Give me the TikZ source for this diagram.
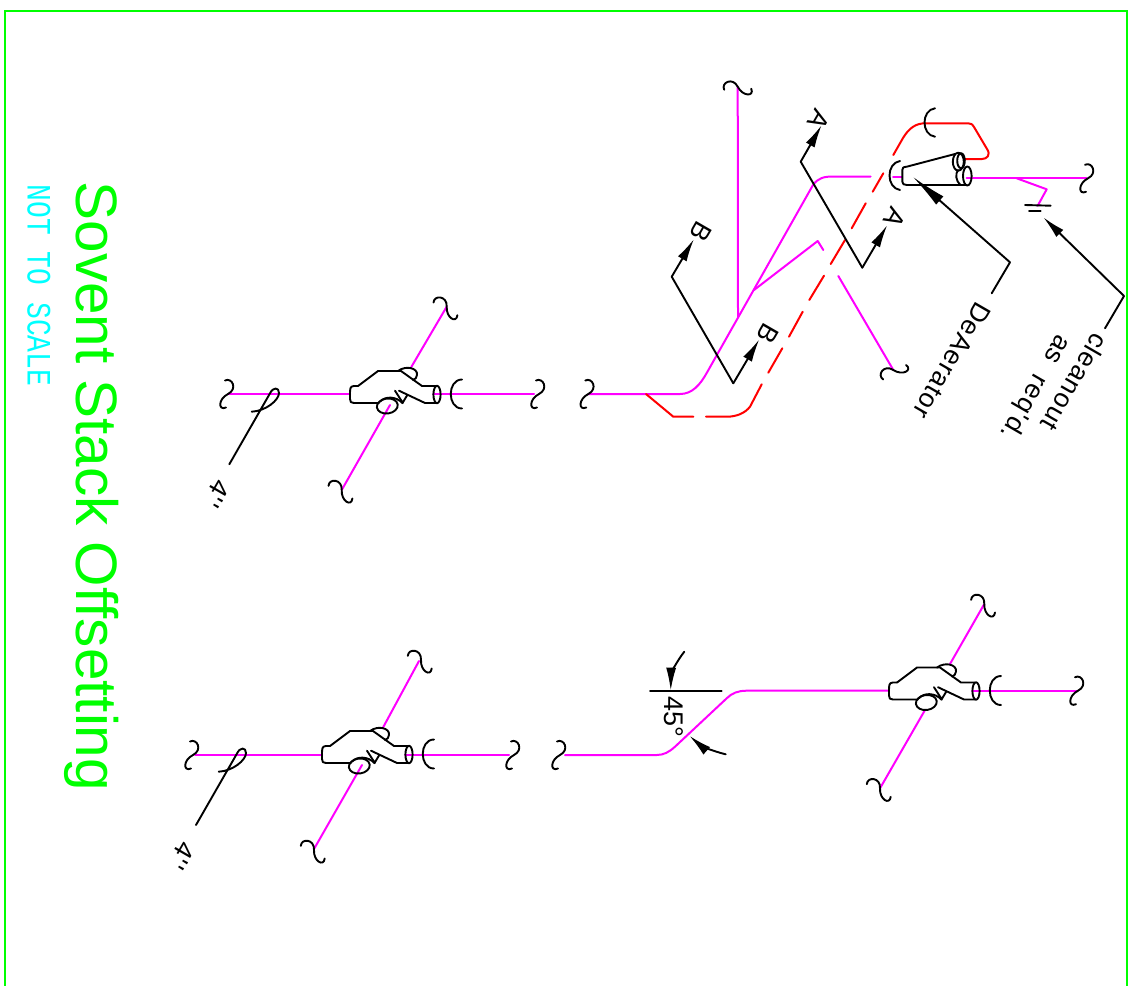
\documentclass[tikz,border=0pt]{standalone}
\usepackage{fontspec}
\usepackage{graphicx}
\setmainfont{Liberation Sans}
\newfontfamily\monof{Liberation Mono}
\newfontfamily\spacedf[LetterSpace=4]{Liberation Sans}
\usetikzlibrary{arrows.meta}
\definecolor{pipeM}{HTML}{FF00FF}
\definecolor{pipeR}{HTML}{FF0000}
\definecolor{frameG}{HTML}{00FF00}
\definecolor{noteC}{HTML}{00FFFF}
\tikzset{
 ink/.style={line width=1.9pt,draw=black,line cap=round,line join=round},
 mag/.style={line width=2pt,draw=pipeM,line cap=round,line join=round},
 rd/.style={line width=2pt,draw=pipeR,line cap=round,line join=round},
 lead/.style={ink,-{Latex[length=23pt,width=10pt]}},
 leadbig/.style={ink,-{Latex[length=36pt,width=11pt]}},
 lbl/.style={inner sep=0pt,anchor=base west,rotate=-120,font=\spacedf\fontsize{26.5}{26.5}\selectfont},
 brk/.pic={\draw[ink] (-3,-13.5) .. controls (4,-17) and (10,-5) .. (0,0) .. controls (-10,5) and (-10,17) .. (-2,13.5);},
 tee/.pic={
  \draw[ink] (8,-8) -- (4,-8) .. controls (0,-8) and (0,-5) .. (0,0) -- (0,5) .. controls (0,8) and (1,9) .. (4,9) -- (29,9);
  \draw[ink] (8,-8) -- (28,-23) -- (51,-23) -- (72,-8) -- (86,-8);
  \draw[ink] (86,9) -- (75,9) -- (49,-3.3);
  \draw[ink] (87,0.5) ellipse (3.6 and 8.7);
  \draw[ink] (45,-3.3) -- (52.7,8.7) -- (57.3,1);
  \draw[ink] (37.3,12) ellipse [x radius=10.5,y radius=7.5,rotate=8];
  \draw[ink] (48,-23) .. controls (56,-29) and (68,-26) .. (67,-19) .. controls (67,-16) and (65,-15) .. (63,-14);
  \draw[ink] (30,7.7) .. controls (35,2) and (46,2) .. (52.7,9.3);
  \draw[ink] (112,-14.5) .. controls (97,-14.5) and (97,14.5) .. (112,14.5);
 },
}
\begin{document}
\begin{tikzpicture}[x=1pt,y=-1pt]
\useasboundingbox (0,0) rectangle (1142,985);
% frame
\draw[line width=2pt,draw=frameG] (5,986) -- (5,11) -- (1127,11) -- (1127,986);
% titles
\node[inner sep=0pt,anchor=base west,rotate=-90,text=frameG,font=\fontsize{58.4}{58.4}\selectfont] (title) at (76,181.5) {Sovent Stack Offsetting};
\node[inner sep=0pt,anchor=base west,rotate=-90,text=noteC,font=\monof\fontsize{28}{28}\selectfont] (note) at (27.5,184.5) {\scalebox{1}[1.22]{NOT TO SCALE}};

% ---- upper left group
\draw[mag] (228,394) -- (350,394);
\draw[mag] (433,394) -- (534,394);
\draw[mag] (446.7,306.7) -- (411.3,367);
\draw[mag] (390,405) -- (341.7,490);
\pic at (350,394) {tee};
\pic at (228,394) {brk};
\pic at (539,394) {brk};
\pic[rotate=60] at (446.7,306.7) {brk};
\pic[rotate=60] at (341.7,490) {brk};
\draw[ink] (229.3,464.3) -- (270,393.3) .. controls (273,387) and (279,387) .. (279,393) .. controls (279,400) and (266,411) .. (251.7,411.7);
\node[lbl] (fourA) at (216,477) {4''};

% ---- lower left group
\draw[mag] (195,754.5) -- (322,754.5);
\draw[mag] (405,754.5) -- (509,754.5);
\draw[mag] (419,661) -- (383.3,727);
\draw[mag] (362,765) -- (314,849);
\pic at (322,754) {tee};
\pic at (193,755) {brk};
\pic at (514,755) {brk};
\pic[rotate=60] at (421,660) {brk};
\pic[rotate=60] at (314,850) {brk};
\draw[ink] (196,825) -- (237,753.5) .. controls (240,747) and (246,747) .. (246,753) .. controls (246,760) and (233,771) .. (218.7,771.7);
\node[lbl] (fourB) at (181,839) {4''};

% ---- lower right group
\draw[mag] (565,755) -- (656.7,755) .. controls (664,755) and (669,752) .. (675,746.7) -- (726.7,698.3) .. controls (732,693) and (738,690.7) .. (746.7,690.7) -- (889,690.7);
\draw[mag] (972,690.7) -- (1077.7,690.7);
\draw[mag] (984.3,604) -- (950,664);
\draw[mag] (925,710) -- (880,788.3);
\pic at (889,690.5) {tee};
\pic at (560,755) {brk};
\pic at (1078,690.7) {brk};
\pic[rotate=60] at (984.3,604) {brk};
\pic[rotate=60] at (880,788.3) {brk};
\draw[ink] (650,690.7) -- (721.7,690.7);
\draw[lead] (684.3,651.7) .. controls (676,662) and (671,675) .. (670.7,690.7);
\draw[lead] (725.7,754.3) .. controls (712,751) and (700,745) .. (689.3,735.7);
\node[inner sep=0pt,anchor=base west,rotate=-90,font=\fontsize{27}{27}\selectfont] (deg) at (664,696) {45°};

% ---- upper right group
\draw[mag] (588.3,394) -- (680,394) .. controls (692,394) and (700,385) .. (706.7,373) -- (813,185) .. controls (818,178) and (824,176.5) .. (833,176.5) -- (870.7,176.5);
\draw[mag] (893,176.5) -- (902,176.5);
\draw[mag] (966.7,178.3) -- (1086.7,178.3);
\draw[mag] (1016.7,178.3) -- (1046.7,189.3) -- (1037.7,205.7);
\draw[mag] (738,316.7) -- (737.7,86.7);
\draw[mag] (754,290) -- (817.7,241) -- (823.3,250);
\draw[mag] (838.3,276) -- (893.3,370);
\pic at (1088,178.3) {brk};
\pic at (588.3,394) {brk};
\pic[rotate=90] at (737.7,86.7) {brk};
\pic[rotate=120] at (893.3,370) {brk};
% red drain line
\draw[rd] (646,394) -- (673.3,416.7) -- (693.3,416.7);
\draw[rd] (706,416.7) -- (726.7,416.7) .. controls (737,416.7) and (745,413) .. (750,406.7) -- (761.7,384.3);
\draw[rd] (768.3,372.7) -- (782.3,348.3);
\draw[rd] (789,336.7) -- (802.7,311.7);
\draw[rd] (809.3,300) -- (824,275.7);
\draw[rd] (830.7,264) -- (845,240);
\draw[rd] (851.7,228.3) -- (865.7,203.3);
\draw[rd] (872.7,191.7) -- (883.3,173.3);
\draw[rd] (893.3,155) -- (903,138) .. controls (909,128) and (916,123.3) .. (925,123.3) -- (968,123.3) .. controls (971,123.3) and (972,124) .. (974,127) -- (987,149) .. controls (991,155) and (987,159) .. (982,159) -- (964,159);
\draw[ink] (935,108.3) .. controls (921,110) and (921,135) .. (935,136.7);
% deaerator fitting
\draw[ink] (900,161) .. controls (886,163) and (886,188) .. (900,190);
\draw[ink] (955,154) -- (906.7,166.7) .. controls (903,167) and (902.3,168) .. (902.3,170) -- (902.3,181.7) .. controls (902.3,184) and (904,185) .. (906.7,185) -- (966.7,185);
\draw[ink] (958.3,161.7) ellipse (5.5 and 9);
\draw[ink] (961,160.7) ellipse (3.8 and 7.5);
\draw[ink] (967.3,176) ellipse (4.3 and 9.5);
\draw[ink] (958,170) .. controls (955,174) and (956,181) .. (960,184.5);
% cleanout
\draw[ink] (1025,205) -- (1050.7,205.7);
\draw[ink] (1029,210.7) -- (1040.7,210.7);
% section marks
\draw[lead] (862.3,267.7) -- (800.7,161.7) -- (821.7,125);
\draw[lead] (862.3,267.7) -- (887.3,225);
\node[lbl] (secA) at (816,107) {A};
\node[lbl] (secAb) at (891.5,205) {A};
\draw[lead] (733.3,383.3) -- (671.7,276.7) -- (694,239);
\draw[lead] (733.3,383.3) -- (759.3,339.3);
\node[lbl] (secB) at (698,219) {B};
\node[lbl] (secBb) at (765,321) {B};
% leaders
\draw[leadbig] (991.7,293.3) -- (1010,262.3) -- (912.7,176.7);
\draw[lead] (1105,328.3) -- (1124,296) -- (1043.3,217.3);
\node[lbl] (deaer) at (977,300) {DeAerator};
\node[lbl] (clean) at (1094,331) {cleanout};
\node[lbl] (asreq) at (1058,333) {as\ \ req'd.};
\end{tikzpicture}
\end{document}
